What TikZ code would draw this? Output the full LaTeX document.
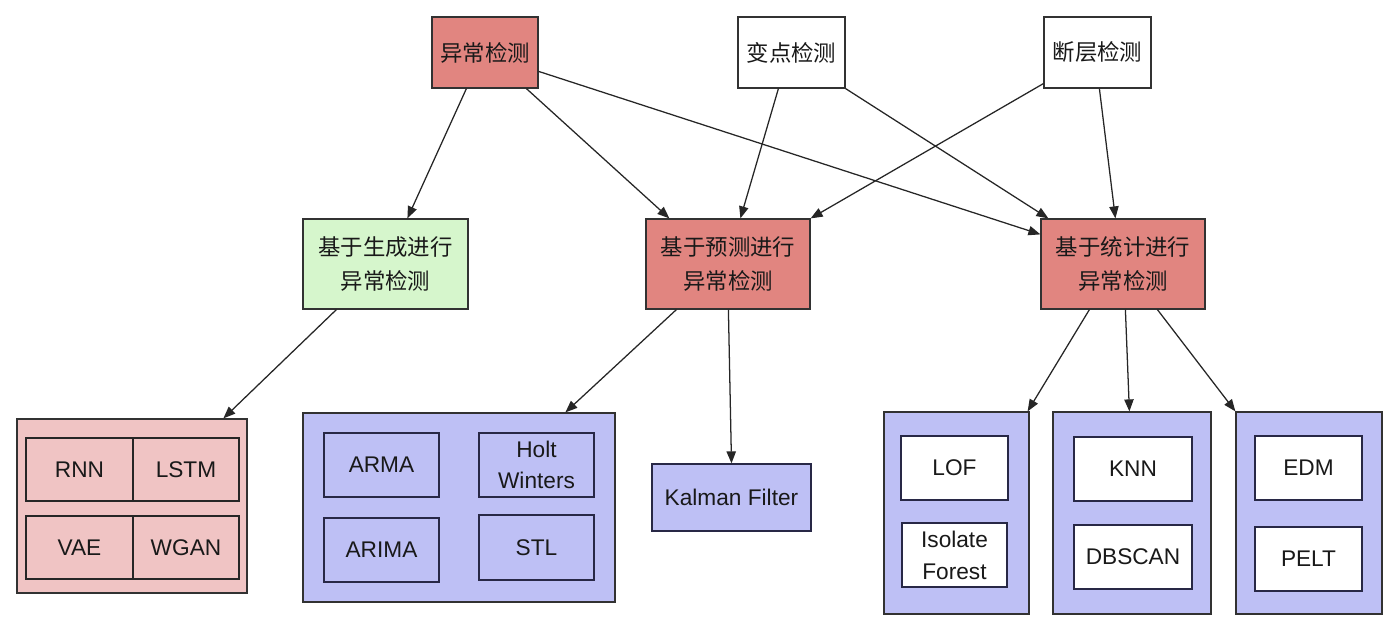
\documentclass[tikz,border=0pt]{standalone}
\usepackage{fontspec}
\setmainfont{Liberation Sans}
\newfontfamily\cjk{Noto Sans CJK SC}
\usetikzlibrary{arrows.meta,calc}
\definecolor{redc}{RGB}{225,133,128}
\definecolor{greenc}{RGB}{214,246,204}
\definecolor{pinkc}{RGB}{240,196,196}
\definecolor{bluec}{RGB}{190,192,245}
\definecolor{linec}{RGB}{50,50,50}
\definecolor{navyc}{RGB}{40,40,70}
\definecolor{textc}{RGB}{25,25,25}
\begin{document}
\begin{tikzpicture}[x=0.75pt,y=-0.75pt,
  sz/.style 2 args={minimum width=#1*0.75pt, minimum height=#2*0.75pt},
  box/.style={draw=linec, line width=0.9pt, inner sep=0pt, align=center, text=textc,
    font=\fontsize{17}{24}\selectfont},
  cjkbox/.style={box, font=\fontsize{16.8}{25.5}\selectfont\cjk},
  redbox/.style={cjkbox, fill=redc},
  whitebox/.style={cjkbox, fill=white},
  greenbox/.style={cjkbox, fill=greenc},
  pinkcont/.style={box, fill=pinkc},
  bluecont/.style={box, fill=bluec},
  pinkitem/.style={box, fill=pinkc, draw=black!85},
  blueitem/.style={box, fill=bluec, draw=navyc},
  whiteitem/.style={box, fill=white, draw=navyc},
  arr/.style={draw=black!85, line width=0.95pt, -{Triangle[length=9pt,width=7pt]}}
]
\useasboundingbox (0,0) rectangle (1400,641);

% top row
\node[redbox, sz={106}{71}] (yc) at (485,52.5) {异常检测};
\node[whitebox, sz={107}{71}] (bd) at (791.5,52.5) {变点检测};
\node[whitebox, sz={107}{71}] (dc) at (1097.5,52.5) {断层检测};

% middle row
\node[greenbox, sz={165}{90}] (sc) at (385.5,264) {基于生成进行\\异常检测};
\node[redbox, sz={164}{90}] (yp) at (728,264) {基于预测进行\\异常检测};
\node[redbox, sz={164}{90}] (tj) at (1123,264) {基于统计进行\\异常检测};

% bottom: generation group
\node[pinkcont, sz={230}{174}] (pk) at (132,506) {};
\node[pinkitem, sz={107}{63}] (rnn) at (79.5,469.5) {RNN};
\node[pinkitem, sz={106}{63}] (lstm) at (186,469.5) {LSTM};
\node[pinkitem, sz={107}{63}] (vae) at (79.5,547.5) {VAE};
\node[pinkitem, sz={106}{63}] (wgan) at (186,547.5) {WGAN};

% bottom: prediction group
\node[bluecont, sz={312}{189}] (ac) at (459,507.5) {};
\node[blueitem, sz={115}{64}] (arma) at (381.5,465) {ARMA};
\node[blueitem, sz={115}{64}, font=\fontsize{17}{23}\selectfont] (holt) at (536.5,465) {Holt\\Winters};
\node[blueitem, sz={115}{64}] (arima) at (381.5,550) {ARIMA};
\node[blueitem, sz={115}{65}] (stl) at (536.5,547.5) {STL};
\node[blueitem, sz={159}{67}] (kf) at (731.5,497.5) {Kalman Filter};

% bottom: statistics groups
\node[bluecont, sz={145}{202}] (lc) at (956.5,513) {};
\node[whiteitem, sz={107}{64}] (lof) at (954.5,468) {LOF};
\node[whiteitem, sz={105}{64}, font=\fontsize{17}{24}\selectfont] (iso) at (954.5,555) {Isolate\\Forest};

\node[bluecont, sz={158}{202}] (kc) at (1132,513) {};
\node[whiteitem, sz={118}{64}] (knn) at (1133,469) {KNN};
\node[whiteitem, sz={118}{64}] (dbs) at (1133,557) {DBSCAN};

\node[bluecont, sz={146}{202}] (ec) at (1309,513) {};
\node[whiteitem, sz={107}{64}] (edm) at (1308.5,468) {EDM};
\node[whiteitem, sz={107}{64}] (pelt) at (1308.5,559) {PELT};

% connectors
\draw[arr] ($(yc.south west)+(35,0)$) -- ($(sc.north west)+(105,0)$);
\draw[arr] ($(yc.south west)+(95,0)$) -- ($(yp.north west)+(24,0)$);
\draw[arr] ($(yc.north east)+(0,55)$) -- ($(tj.north west)+(0,16)$);
\draw[arr] ($(bd.south west)+(41,0)$) -- ($(yp.north west)+(95,0)$);
\draw[arr] (bd.south east) -- ($(tj.north west)+(8,0)$);
\draw[arr] ($(dc.south west)+(0,-5)$) -- (yp.north east);
\draw[arr] ($(dc.south west)+(56,0)$) -- ($(tj.north west)+(75,0)$);
\draw[arr] ($(sc.south west)+(34,0)$) -- ($(pk.north west)+(207,0)$);
\draw[arr] ($(yp.south west)+(31,0)$) -- ($(ac.north west)+(263,0)$);
\draw[arr] ($(yp.south west)+(83,0)$) -- (kf.north);
\draw[arr] ($(tj.south west)+(49,0)$) -- ($(lc.north east)+(-2,0)$);
\draw[arr] ($(tj.south west)+(85,0)$) -- ($(kc.north west)+(77,0)$);
\draw[arr] ($(tj.south west)+(117,0)$) -- (ec.north west);
\end{tikzpicture}
\end{document}
